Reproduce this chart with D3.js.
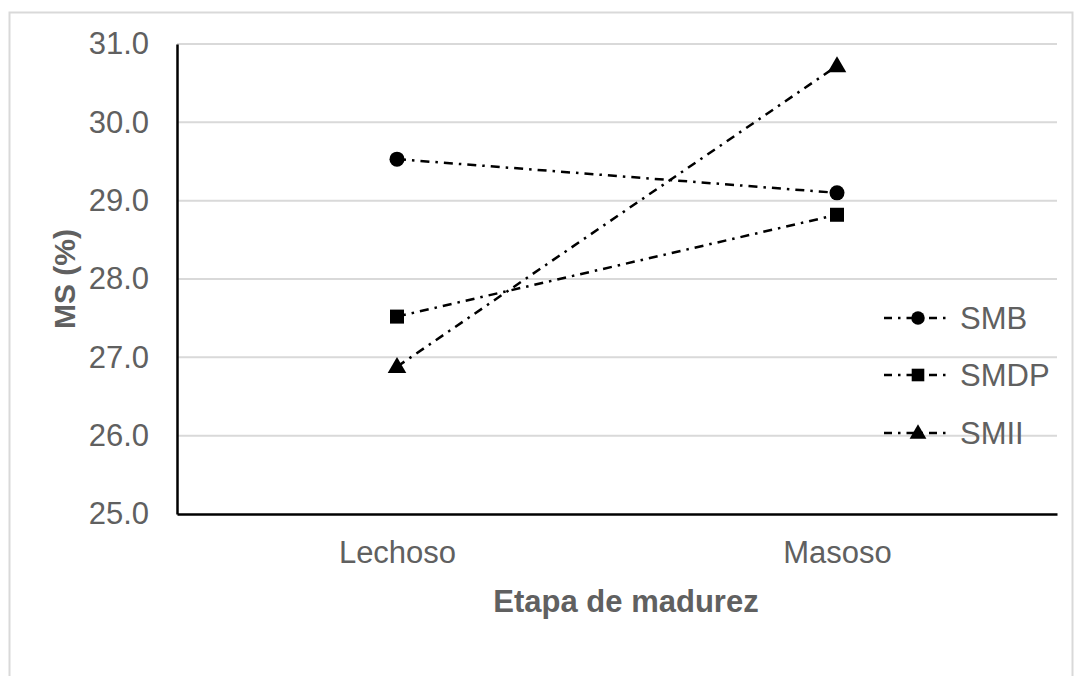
<!DOCTYPE html>
<html><head><meta charset="utf-8">
<script src="https://cdn.jsdelivr.net/npm/d3@7"></script>
<style>body{margin:0;background:#fff}svg{display:block}</style>
</head><body>
<svg id="chart" width="1075" height="676"></svg>
<script>
const categories = ["Lechoso", "Masoso"];
const seriesNames = ["SMB", "SMDP", "SMII"];
const smb = [29.53, 29.10];
const smdp = [27.52, 28.82];
const smii = [26.88, 30.72];
const yTicks = [25, 26, 27, 28, 29, 30, 31];
const markerTypes = ["circle", "square", "triangle"];

const seriesValues = [smb, smdp, smii];
const svg = d3.select("#chart");
const m = {left: 177, right: 1057, top: 44, bottom: 514};
const textColor = "#606060";
const font = "Liberation Sans, Arial, sans-serif";

// outer border
svg.append("rect").attr("x", 9.5).attr("y", 12.5).attr("width", 1063).attr("height", 700)
  .attr("fill", "none").attr("stroke", "#d9d9d9").attr("stroke-width", 2);

const x = d3.scalePoint().domain(categories).range([m.left, m.right]).padding(0.5);
const y = d3.scaleLinear().domain([25, 31]).range([m.bottom, m.top]);

// gridlines
svg.append("g").selectAll("line").data(yTicks.filter(d => d > 25)).join("line")
  .attr("x1", m.left).attr("x2", m.right)
  .attr("y1", d => y(d)).attr("y2", d => y(d))
  .attr("stroke", "#d9d9d9").attr("stroke-width", 2);

// y axis
const yAxis = svg.append("g").attr("transform", `translate(${m.left},0)`)
  .call(d3.axisLeft(y).tickValues(yTicks).tickFormat(d3.format(".1f")).tickSize(0).tickPadding(28));
yAxis.select(".domain").attr("stroke", "#000").attr("stroke-width", 2.5);
yAxis.selectAll("text").attr("font-family", font)
  .attr("font-size", 31).attr("fill", textColor);

// x axis
const xAxis = svg.append("g").attr("transform", `translate(0,${m.bottom})`)
  .call(d3.axisBottom(x).tickSize(0).tickPadding(27));
xAxis.select(".domain").attr("stroke", "#000").attr("stroke-width", 2.5);
xAxis.selectAll("text").attr("font-family", font)
  .attr("font-size", 31).attr("fill", textColor);

// axis titles
svg.append("text").attr("transform", "translate(75,279) rotate(-90)")
  .attr("text-anchor", "middle").attr("font-family", font)
  .attr("font-weight", "bold").attr("font-size", 30).attr("fill", textColor).text("MS (%)");
svg.append("text").attr("x", 626).attr("y", 612)
  .attr("text-anchor", "middle").attr("font-family", font)
  .attr("font-weight", "bold").attr("font-size", 31).attr("fill", textColor).text("Etapa de madurez");

const dash = "9,6,2.5,6";
const line = d3.line().x((d, i) => x(categories[i])).y(d => y(d));

function drawMarker(g, type, cx, cy, s) {
  if (type === "circle") g.append("circle").attr("cx", cx).attr("cy", cy).attr("r", 7.5 * s).attr("fill", "#000");
  else if (type === "square") g.append("rect").attr("x", cx - 7 * s).attr("y", cy - 7 * s)
    .attr("width", 14 * s).attr("height", 14 * s).attr("fill", "#000");
  else g.append("path").attr("d", d3.symbol(d3.symbolTriangle, 150 * s * s)()).attr("transform", `translate(${cx},${cy + 1})`).attr("fill", "#000");
}

const plot = svg.append("g");
seriesValues.forEach((vals, si) => {
  plot.append("path").datum(vals).attr("d", line).attr("fill", "none")
    .attr("stroke", "#000").attr("stroke-width", 2.5).attr("stroke-dasharray", dash);
  vals.forEach((v, i) => drawMarker(plot, markerTypes[si], x(categories[i]), y(v), 1));
});

// legend
const legendY = [318, 375, 433];
const leg = svg.append("g");
seriesNames.forEach((name, i) => {
  const ly = legendY[i];
  leg.append("line").attr("x1", 884).attr("x2", 948).attr("y1", ly).attr("y2", ly)
    .attr("stroke", "#000").attr("stroke-width", 2.5).attr("stroke-dasharray", "8,6,2.5,6");
  drawMarker(leg, markerTypes[i], 918, ly, 0.9);
  leg.append("text").attr("x", 960).attr("y", ly).attr("dy", "0.35em")
    .attr("font-family", font).attr("font-size", 31)
    .attr("fill", textColor).text(name);
});
</script>
</body></html>
